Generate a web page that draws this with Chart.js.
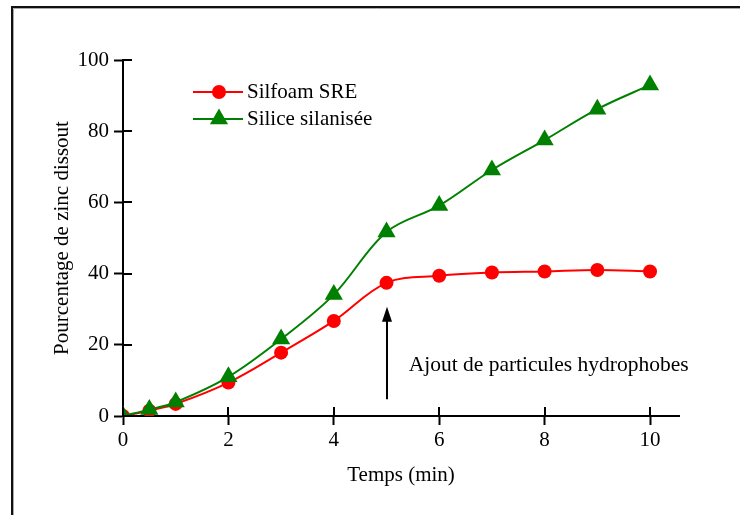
<!DOCTYPE html>
<html><head><meta charset="utf-8">
<script src="https://cdn.jsdelivr.net/npm/chart.js@4/dist/chart.umd.min.js"></script>
<style>html,body{margin:0;padding:0;background:#fff;} canvas{display:block;}</style>
</head><body>
<canvas id="c" width="740" height="515"></canvas>
<script>
// ---- data ----
const timeMin = [0, 0.5, 1, 2, 3, 4, 5, 6, 7, 8, 9, 10];
const silfoamSRE = [0, 1.5, 3.4, 9.4, 17.8, 26.7, 37.4, 39.4, 40.3, 40.6, 41.0, 40.6];
const siliceSilanisee = [0, 1.8, 3.9, 11.0, 21.6, 34.1, 51.7, 59.1, 69.1, 77.5, 86.2, 93.0];
const xTickValues = [0, 2, 4, 6, 8, 10];
const yTickValues = [0, 20, 40, 60, 80, 100];
const seriesNames = ['Silfoam SRE', 'Silice silanisée'];
const xTitle = 'Temps (min)';
const yTitle = 'Pourcentage de zinc dissout';
const annotationText = 'Ajout de particules hydrophobes';
const arrowTime = 5, arrowFromValue = 4.7, arrowToValue = 30.7;
const annotationTime = 5.42, annotationValue = 12.6;

const FONT = "'Liberation Serif', 'Times New Roman', serif";
const RED = '#ff0000', GREEN = '#008000';

const toXY = (xs, ys) => xs.map((x, i) => ({x: x, y: ys[i]}));

const extras = {
  id: 'extras',
  beforeDraw(chart) {
    const ctx = chart.ctx;
    ctx.save();
    ctx.fillStyle = '#fff';
    ctx.fillRect(0, 0, chart.width, chart.height);
    // frame
    ctx.strokeStyle = '#111';
    ctx.lineWidth = 2;
    ctx.beginPath();
    ctx.moveTo(12, chart.height); ctx.lineTo(12, 7); ctx.lineTo(chart.width, 7);
    ctx.stroke();
    ctx.strokeStyle = '#aaa';
    ctx.lineWidth = 1;
    ctx.beginPath();
    ctx.moveTo(13.5, chart.height); ctx.lineTo(13.5, 8.5); ctx.lineTo(chart.width, 8.5);
    ctx.stroke();
    ctx.restore();
  },
  afterDraw(chart) {
    const ctx = chart.ctx;
    const xs = chart.scales.x, ys = chart.scales.y;
    const a = chart.chartArea;
    ctx.save();
    // inner tick halves
    ctx.strokeStyle = '#000';
    ctx.lineWidth = 2;
    ctx.beginPath();
    xTickValues.forEach(v => {
      const px = Math.round(xs.getPixelForValue(v));
      ctx.moveTo(px, a.bottom); ctx.lineTo(px, a.bottom - 9);
    });
    yTickValues.forEach(v => {
      const py = Math.round(ys.getPixelForValue(v));
      ctx.moveTo(a.left, py); ctx.lineTo(a.left + 9, py);
    });
    ctx.stroke();
    // arrow
    const ax = Math.round(xs.getPixelForValue(arrowTime));
    const ay0 = ys.getPixelForValue(arrowFromValue);
    const ay1 = ys.getPixelForValue(arrowToValue);
    ctx.beginPath();
    ctx.moveTo(ax, ay0); ctx.lineTo(ax, ay1 + 12);
    ctx.stroke();
    ctx.fillStyle = '#000';
    ctx.beginPath();
    ctx.moveTo(ax, ay1); ctx.lineTo(ax - 5, ay1 + 15); ctx.lineTo(ax + 5, ay1 + 15);
    ctx.closePath(); ctx.fill();
    // annotation text
    ctx.font = '21.5px ' + FONT;
    ctx.textAlign = 'left';
    ctx.textBaseline = 'alphabetic';
    ctx.fillText(annotationText, xs.getPixelForValue(annotationTime), ys.getPixelForValue(annotationValue));
    // legend
    ctx.font = '21px ' + FONT;
    const rows = [
      {name: seriesNames[0], color: RED, style: 'circle', r: 7, y: 92},
      {name: seriesNames[1], color: GREEN, style: 'triangle', r: 10.5, y: 119}
    ];
    rows.forEach(row => {
      ctx.strokeStyle = row.color;
      ctx.lineWidth = 2;
      ctx.beginPath();
      ctx.moveTo(193, row.y); ctx.lineTo(243, row.y);
      ctx.stroke();
      ctx.fillStyle = row.color;
      Chart.helpers.drawPoint(ctx, {pointStyle: row.style, radius: row.r, borderWidth: 0, rotation: 0}, 219, row.y);
      ctx.fillStyle = '#000';
      ctx.textBaseline = 'middle';
      ctx.fillText(row.name, 247, row.y);
    });
    ctx.restore();
  }
};

new Chart(document.getElementById('c'), {
  type: 'line',
  data: {
    datasets: [
      {
        label: seriesNames[0],
        data: toXY(timeMin, silfoamSRE),
        borderColor: RED, backgroundColor: RED,
        borderWidth: 2, pointStyle: 'circle', pointRadius: 7,
        pointBorderWidth: 0, pointBackgroundColor: RED,
        tension: 0.35, order: 1
      },
      {
        label: seriesNames[1],
        data: toXY(timeMin, siliceSilanisee),
        borderColor: GREEN, backgroundColor: GREEN,
        borderWidth: 2, pointStyle: 'triangle', pointRadius: 10.5,
        pointBorderWidth: 0, pointBackgroundColor: GREEN,
        tension: 0.35, order: 0
      }
    ]
  },
  options: {
    responsive: false,
    animation: false,
    devicePixelRatio: 1,
    layout: {padding: {top: 60, right: 61, left: 0, bottom: 0}},
    plugins: {legend: {display: false}, tooltip: {enabled: false}},
    scales: {
      x: {
        type: 'linear', min: 0, max: 10.55,
        afterBuildTicks: s => { s.ticks = xTickValues.map(v => ({value: v})); },
        afterFit: s => { s.height = 99; s.paddingLeft = 0; s.paddingRight = 0; },
        grid: {drawOnChartArea: false, drawTicks: true, tickLength: 9, tickWidth: 2, tickColor: '#000'},
        border: {display: true, color: '#000', width: 2},
        ticks: {color: '#000', font: {family: FONT, size: 21}, padding: 3, maxRotation: 0},
        title: {display: true, text: xTitle, color: '#000', font: {family: FONT, size: 21}, padding: {top: 0, bottom: 27}}
      },
      y: {
        type: 'linear', min: 0, max: 100,
        afterBuildTicks: s => { s.ticks = yTickValues.map(v => ({value: v})); },
        afterFit: s => { s.width = 123; s.paddingTop = 0; s.paddingBottom = 0; },
        grid: {drawOnChartArea: false, drawTicks: true, tickLength: 9, tickWidth: 2, tickColor: '#000'},
        border: {display: true, color: '#000', width: 2},
        ticks: {color: '#000', font: {family: FONT, size: 21}, padding: 5},
        title: {display: true, text: yTitle, color: '#000', font: {family: FONT, size: 21}, padding: {top: 50, bottom: 0}}
      }
    }
  },
  plugins: [extras]
});
</script>
</body></html>
